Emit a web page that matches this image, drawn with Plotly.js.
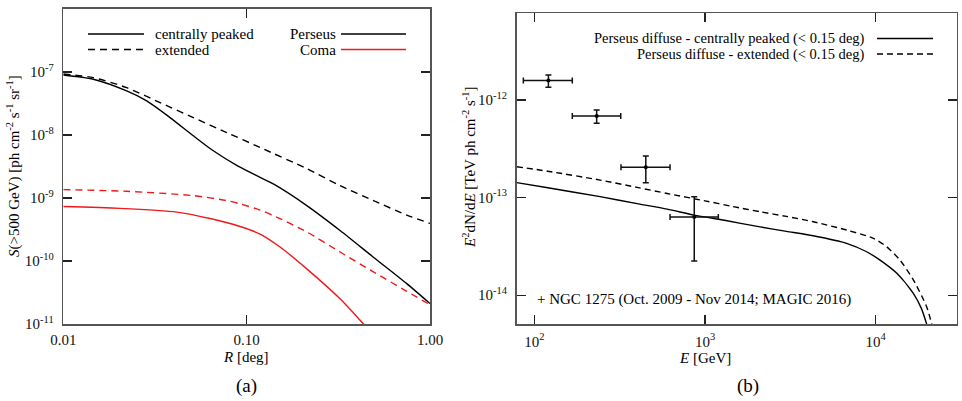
<!DOCTYPE html>
<html><head><meta charset="utf-8">
<script src="https://cdn.plot.ly/plotly-3.0.1.min.js"></script>
<style>html,body{margin:0;padding:0;background:#fff}</style>
</head><body><div id="chart" style="width:962px;height:401px"></div>
<script>
// ---------- Panel (a): S(>500 GeV) vs R ----------
const R_perseus_cp = [0.01, 0.01458, 0.02216, 0.02851, 0.03821, 0.0512, 0.06581, 0.08976, 0.1183, 0.1398, 0.2128, 0.3232, 0.4912, 0.747, 1.0];
const S_perseus_cp = [8.96e-8, 7.66e-8, 5.0e-8, 3.48e-8, 1.89e-8, 9.71e-9, 5.62e-9, 3.2e-9, 2.13e-9, 1.67e-9, 7.58e-10, 3.05e-10, 1.15e-10, 4.37e-11, 2.11e-11];

const R_perseus_ext = [0.01, 0.01458, 0.02216, 0.03369, 0.0512, 0.07786, 0.1183, 0.2128, 0.3232, 0.4912, 0.747, 1.0];
const S_perseus_ext = [9.3e-8, 8.13e-8, 5.64e-8, 3.27e-8, 1.89e-8, 1.095e-8, 6.34e-9, 2.92e-9, 1.57e-9, 9.1e-10, 5.36e-10, 3.95e-10];

const R_coma_cp = [0.01, 0.02038, 0.04157, 0.06313, 0.09204, 0.1183, 0.1521, 0.2128, 0.3232, 0.4155, 0.5019];
const S_coma_cp = [7.31e-10, 6.85e-10, 5.98e-10, 4.72e-10, 3.53e-10, 2.68e-10, 1.67e-10, 7.5e-11, 2.51e-11, 1.15e-11, 6.2e-12];

const R_coma_ext = [0.01, 0.02216, 0.0512, 0.07786, 0.09204, 0.1183, 0.1398, 0.2128, 0.3232, 0.4912, 0.747, 1.0];
const S_coma_ext = [1.358e-9, 1.277e-9, 1.091e-9, 9.1e-10, 8.07e-10, 6.43e-10, 5.27e-10, 2.89e-10, 1.39e-10, 6.72e-11, 3.3e-11, 2.02e-11];

const xTicksA = [0.01, 0.1, 1];
const xTickTextA = ['0.01', '0.10', '1.00'];
const yTicksA = [1e-11, 1e-10, 1e-9, 1e-8, 1e-7, 1e-6];
const yTickTextA = ['10<sup>-11</sup>', '10<sup>-10</sup>', '10<sup>-9</sup>', '10<sup>-8</sup>', '10<sup>-7</sup>', '10<sup>-6</sup>'];

// ---------- Panel (b): E^2 dN/dE vs E ----------
const E_diffuse_cp = [79, 120, 243, 400, 600, 865, 1300, 2100, 3000, 4300, 6750, 8850, 10600, 13300, 16600, 18500, 19900];
const F_diffuse_cp = [1.42e-13, 1.26e-13, 1.02e-13, 8.66e-14, 7.6e-14, 6.6e-14, 5.84e-14, 5.0e-14, 4.5e-14, 4.05e-14, 3.39e-14, 2.78e-14, 2.28e-14, 1.67e-14, 1.04e-14, 7.3e-15, 5.0e-15];

const E_diffuse_ext = [79, 120, 243, 400, 600, 1000, 1465, 2100, 3000, 4300, 6750, 9680, 11590, 13870, 16600, 19870, 21300];
const F_diffuse_ext = [2.07e-13, 1.86e-13, 1.51e-13, 1.27e-13, 1.10e-13, 9.25e-14, 8.06e-14, 7.15e-14, 6.4e-14, 5.65e-14, 4.64e-14, 3.82e-14, 3.13e-14, 2.28e-14, 1.43e-14, 7.6e-15, 5.0e-15];

const E_ngc = [121, 232, 450, 865];
const E_ngc_lo = [86.3, 167, 322, 624];
const E_ngc_hi = [167, 321, 624, 1197];
const F_ngc = [1.58e-12, 6.86e-13, 2.04e-13, 6.3e-14];
const F_ngc_lo = [1.35e-12, 5.77e-13, 1.42e-13, 2.23e-14];
const F_ngc_hi = [1.80e-12, 7.9e-13, 2.67e-13, 1.02e-13];

const xTicksB = [100, 1000, 10000];
const xTickTextB = ['10<sup>2</sup>', '10<sup>3</sup>', '10<sup>4</sup>'];
const yTicksB = [1e-14, 1e-13, 1e-12];
const yTickTextB = ['10<sup>-14</sup>', '10<sup>-13</sup>', '10<sup>-12</sup>'];

// ---------- helpers ----------
const W = 962, H = 401;
const FONT = 'Liberation Serif, Times New Roman, serif';
const px = x => x / W;
const py = y => 1 - y / H;
function minorVals(d0, d1) {
  const v = [];
  for (let d = d0; d <= d1; d++) for (let m = 2; m <= 9; m++) v.push(m * Math.pow(10, d));
  return v;
}
const rangeA_x = [-2, 0], rangeA_y = [-11, -6];
const rangeB_x = [Math.log10(78.9), Math.log10(29800)], rangeB_y = [Math.log10(5.05e-15), Math.log10(7.74e-12)];

const axBase = {
  type: 'log', showgrid: false, zeroline: false, showline: true,
  linecolor: '#555', linewidth: 1.6, mirror: 'allticks',
  ticks: 'inside', ticklen: 9, tickwidth: 1.1, tickcolor: '#222',
  tickfont: {family: FONT, size: 15, color: '#111'}, tickmode: 'array'
};
const minorAx = (overlay, anchor, side, range, vals) => ({
  type: 'log', overlaying: overlay, anchor: anchor, side: side, range: range,
  showgrid: false, zeroline: false, showline: true, linecolor: '#555', linewidth: 1.6,
  mirror: 'allticks', ticks: 'inside', ticklen: 5, tickwidth: 1, tickcolor: '#333',
  tickmode: 'array', tickvals: vals, showticklabels: false
});

const solidLine = c => ({color: c, width: 1.4, shape: 'spline', smoothing: 0.7});
const dashLine = (c, d) => ({color: c, width: 1.4, dash: d, shape: 'spline', smoothing: 0.7});

const traces = [
  {x: R_perseus_cp, y: S_perseus_cp, xaxis: 'x', yaxis: 'y', mode: 'lines', line: solidLine('#000')},
  {x: R_perseus_ext, y: S_perseus_ext, xaxis: 'x', yaxis: 'y', mode: 'lines', line: dashLine('#000', '7px,5px')},
  {x: R_coma_cp, y: S_coma_cp, xaxis: 'x', yaxis: 'y', mode: 'lines', line: solidLine('#f01818')},
  {x: R_coma_ext, y: S_coma_ext, xaxis: 'x', yaxis: 'y', mode: 'lines', line: dashLine('#f01818', '7px,5px')},
  {x: E_diffuse_cp, y: F_diffuse_cp, xaxis: 'x2', yaxis: 'y2', mode: 'lines', line: solidLine('#000')},
  {x: E_diffuse_ext, y: F_diffuse_ext, xaxis: 'x2', yaxis: 'y2', mode: 'lines', line: dashLine('#000', '6px,4px')},
  {x: E_ngc, y: F_ngc, xaxis: 'x2', yaxis: 'y2', mode: 'markers',
   marker: {color: '#000', size: 4, symbol: 'circle'},
   error_x: {type: 'data', symmetric: false,
     array: E_ngc.map((v, i) => E_ngc_hi[i] - v), arrayminus: E_ngc.map((v, i) => v - E_ngc_lo[i]),
     color: '#111', thickness: 1.5, width: 3},
   error_y: {type: 'data', symmetric: false,
     array: F_ngc.map((v, i) => F_ngc_hi[i] - v), arrayminus: F_ngc.map((v, i) => v - F_ngc_lo[i]),
     color: '#111', thickness: 1.5, width: 3}}
];

const txt = (x, y, text, xanchor, size, extra) => Object.assign({
  xref: 'paper', yref: 'paper', x: px(x), y: py(y), xanchor: xanchor, yanchor: 'middle',
  showarrow: false, text: text, font: {family: FONT, size: size, color: '#000'}
}, extra || {});
const seg = (x0, x1, y, color, dash) => ({
  type: 'line', xref: 'paper', yref: 'paper', x0: px(x0), x1: px(x1), y0: py(y), y1: py(y),
  line: {color: color, width: 1.4, dash: dash || 'solid'}
});

const layout = {
  width: W, height: H, margin: {l: 0, r: 0, t: 0, b: 0},
  paper_bgcolor: '#fff', plot_bgcolor: 'rgba(0,0,0,0)', showlegend: false,
  font: {family: FONT, color: '#000'},
  xaxis: Object.assign({}, axBase, {
    domain: [px(63.3), px(430)], anchor: 'y', range: rangeA_x,
    tickvals: xTicksA, ticktext: xTickTextA, ticklabelstandoff: 1
  }),
  yaxis: Object.assign({}, axBase, {
    domain: [py(324), py(9)], anchor: 'x', range: rangeA_y,
    tickvals: yTicksA, ticktext: yTickTextA, ticklabelstandoff: 5
  }),
  xaxis2: Object.assign({}, axBase, {
    domain: [px(516.7), px(956.7)], anchor: 'y2', range: rangeB_x,
    tickvals: xTicksB, ticktext: xTickTextB, ticklabelstandoff: 3
  }),
  yaxis2: Object.assign({}, axBase, {
    domain: [py(324), py(13.3)], anchor: 'x2', range: rangeB_y,
    tickvals: yTicksB, ticktext: yTickTextB, ticklabelstandoff: 5
  }),
  // minor ticks drawn with overlay axes
  xaxis3: minorAx('x', 'y', 'bottom', rangeA_x, minorVals(-2, -1)),
  yaxis3: minorAx('y', 'x', 'left', rangeA_y, minorVals(-11, -7)),
  xaxis4: minorAx('x2', 'y2', 'bottom', rangeB_x, minorVals(1, 4).filter(v => v > 78.9 && v < 29800)),
  yaxis4: minorAx('y2', 'x2', 'left', rangeB_y, minorVals(-15, -12).filter(v => v > 5.05e-15 && v < 7.74e-12)),
  shapes: [
    seg(88, 144, 34, '#000'),
    seg(88, 144, 49.5, '#000', '7px,5px'),
    seg(341, 406, 34, '#000'),
    seg(341, 406, 49.5, '#f01818'),
    seg(877, 933, 38.5, '#000'),
    seg(877, 933, 54, '#000', '6px,4px')
  ],
  annotations: [
    txt(153, 34, 'centrally peaked', 'left', 15),
    txt(153, 49.5, 'extended', 'left', 15),
    txt(338, 34, 'Perseus', 'right', 15),
    txt(338, 49.5, 'Coma', 'right', 15),
    txt(867, 38.5, 'Perseus diffuse - centrally peaked (&lt; 0.15 deg)', 'right', 14.5),
    txt(867, 54, 'Perseus diffuse - extended (&lt; 0.15 deg)', 'right', 14.5),
    txt(535, 299, '+ NGC 1275 (Oct. 2009 - Nov 2014; MAGIC 2016)', 'left', 15),
    txt(13, 166, '<i>S</i>(&gt;500 GeV) [ph cm<sup>-2</sup> s<sup>-1</sup> sr<sup>-1</sup>]', 'center', 15, {textangle: -90}),
    txt(469, 167, '<i>E</i><sup>2</sup>dN/d<i>E</i> [TeV ph cm<sup>-2</sup> s<sup>-1</sup>]', 'center', 15, {textangle: -90}),
    txt(246, 357, '<i>R</i> [deg]', 'center', 15),
    txt(705, 358, '<i>E</i> [GeV]', 'center', 15),
    txt(246, 386, '(a)', 'center', 19),
    txt(748, 386, '(b)', 'center', 19)
  ]
};

Plotly.newPlot('chart', traces, layout, {staticPlot: true, displayModeBar: false});
</script>
</body></html>
